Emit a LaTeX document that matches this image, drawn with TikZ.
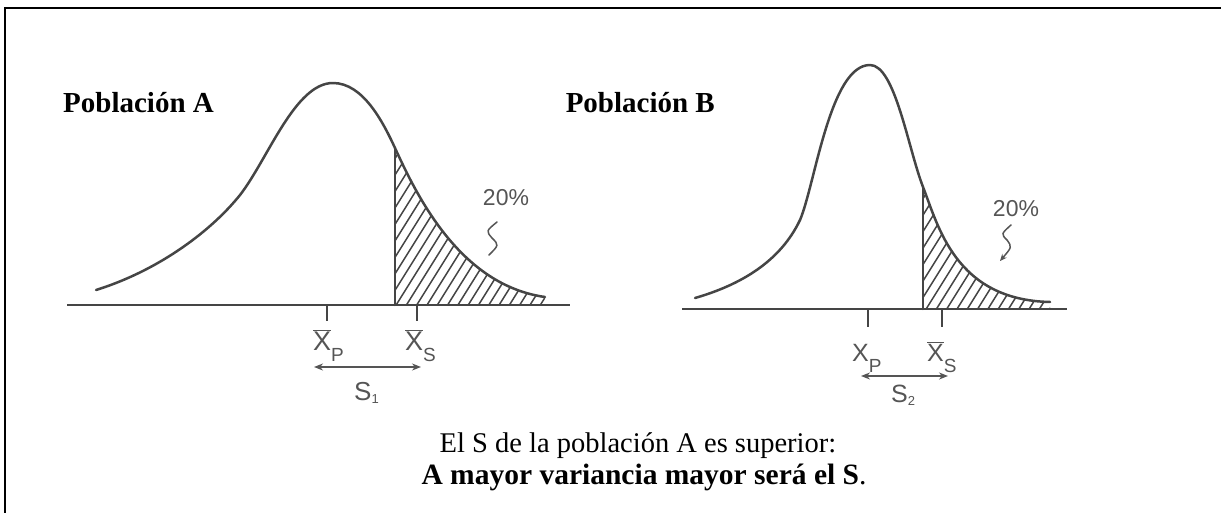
\documentclass[tikz,border=0pt]{standalone}
\usepackage{fontspec}
\setmainfont{Liberation Serif}
\newfontfamily\hand{Liberation Sans}
\usetikzlibrary{arrows.meta}
\definecolor{ink}{HTML}{454545}
\definecolor{pencil}{HTML}{555555}
\newcommand\handX{$\overline{\hbox{X}}$}
\newcommand\sublab[1]{\raisebox{-11pt}{\fontsize{19}{19}\selectfont #1}}
\begin{document}
\begin{tikzpicture}[x=1pt,y=-1pt,
  curve/.style={draw=ink,line width=2.5pt,line cap=round,line join=round},
  axisline/.style={draw=ink,line width=2pt},
  tickmark/.style={draw=ink,line width=2.6pt},
  hatch/.style={draw=ink,line width=1.5pt},
  handlab/.style={text=pencil,font=\hand\fontsize{27}{27}\selectfont,inner sep=0pt,anchor=base west},
  pct/.style={text=pencil,font=\hand\fontsize{23}{23}\selectfont,inner sep=0pt},
  dimarrow/.style={draw=pencil,line width=1.6pt,{Stealth[length=9pt,width=7pt]}-{Stealth[length=9pt,width=7pt]}},
  title/.style={font=\bfseries\fontsize{29}{29}\selectfont,inner sep=0pt},
  caption/.style={font=\fontsize{28.5}{28.5}\selectfont,inner sep=0pt,anchor=base}]
\useasboundingbox (0,0) rectangle (1221,513);
% frame (left and top only)
\draw[line width=2pt] (5,513) -- (5,8) -- (1221,8);

% ---------- Population A ----------
\node[title,anchor=base west] (popA) at (63,113) {Población A};
\coordinate (bAl) at (67,305);
\coordinate (bAr) at (570,305);
\draw[axisline] (bAl) -- (bAr);
\coordinate (cutA) at (395,148);
\coordinate (endA) at (545,297);
\begin{scope}
  \clip (cutA) .. controls (417,196) and (460,285) .. (endA) -- (545,305) -- (395,305) -- cycle;
  \foreach \i in {0,...,28} \draw[hatch] (290+\i*10.3,310) -- ++(110,-176);
\end{scope}
\draw[curve] (96,290) .. controls (160,270) and (212,230) .. (240,195)
   .. controls (268,159) and (295,83) .. (333,83)
   .. controls (363,83) and (383,122) .. (cutA)
   .. controls (417,196) and (460,285) .. (endA);
\draw[curve] (cutA) -- (395,305);
\coordinate (tAp) at (327,305);
\coordinate (tAs) at (417,305);
\draw[tickmark] (tAp) -- ++(0,16);
\draw[tickmark] (tAs) -- ++(0,16);
\node[handlab] (xpA) at (313,350) {\handX\sublab{P}};
\node[handlab] (xsA) at (405,350) {\handX\sublab{S}};
\coordinate (aA1) at (314,367);
\coordinate (aA2) at (421,367);
\draw[dimarrow] (aA1) -- (aA2);
\node[handlab,font=\hand\fontsize{26}{26}\selectfont] (sA) at (354,400) {S\raisebox{-3pt}{\fontsize{13}{13}\selectfont 1}};
\node[pct] (pA) at (506,198) {20\%};
\draw[draw=pencil,line width=1.5pt,line cap=round] (497,222) .. controls (486,231) .. (492,238) .. controls (499,245) .. (489,255);

% ---------- Population B ----------
\node[title,anchor=base east] (popB) at (715,113) {Población B};
\coordinate (bBl) at (682,309);
\coordinate (bBr) at (1067,309);
\draw[axisline] (bBl) -- (bBr);
\coordinate (cutB) at (923,187);
\coordinate (endB) at (1050,302);
\begin{scope}
  \clip (cutB) .. controls (938,225) and (955,300) .. (endB) -- (1050,309) -- (923,309) -- cycle;
  \foreach \i in {0,...,24} \draw[hatch] (820+\i*10.3,314) -- ++(110,-176);
\end{scope}
\draw[curve] (695,298) .. controls (740,285) and (780,262) .. (800,220)
   .. controls (815,185) and (830,65) .. (870,65)
   .. controls (895,65) and (908,148) .. (cutB)
   .. controls (938,225) and (955,300) .. (endB);
\draw[curve] (cutB) -- (923,309);
\coordinate (tBp) at (868,309);
\coordinate (tBs) at (942,309);
\draw[tickmark] (tBp) -- ++(0,18);
\draw[tickmark] (tBs) -- ++(0,18);
\node[handlab,font=\hand\fontsize{25}{25}\selectfont] (xpB) at (852,361) {X\sublab{P}};
\node[handlab,font=\hand\fontsize{25}{25}\selectfont] (xsB) at (927,361) {\handX\sublab{S}};
\coordinate (aB1) at (861,376);
\coordinate (aB2) at (948,376);
\draw[dimarrow] (aB1) -- (aB2);
\node[handlab,font=\hand\fontsize{25}{25}\selectfont] (sB) at (891,402) {S\raisebox{-3pt}{\fontsize{13}{13}\selectfont 2}};
\node[pct] (pB) at (1016,209) {20\%};
\coordinate (sqB1) at (1011,225);
\coordinate (sqB2) at (1000,261);
\draw[draw=pencil,line width=1.5pt,line cap=round,-{Stealth[length=7pt,width=6pt]}] (sqB1) .. controls (1001,234) .. (1007,240) .. controls (1012,247) .. (sqB2);

% ---------- caption ----------
\node[caption] (cap1) at (638,452) {El S de la población A es superior:};
\node[caption,font=\fontsize{29.5}{29.5}\selectfont] (cap2) at (644,484) {\textbf{A mayor variancia mayor será el S}.};
\end{tikzpicture}
\end{document}
